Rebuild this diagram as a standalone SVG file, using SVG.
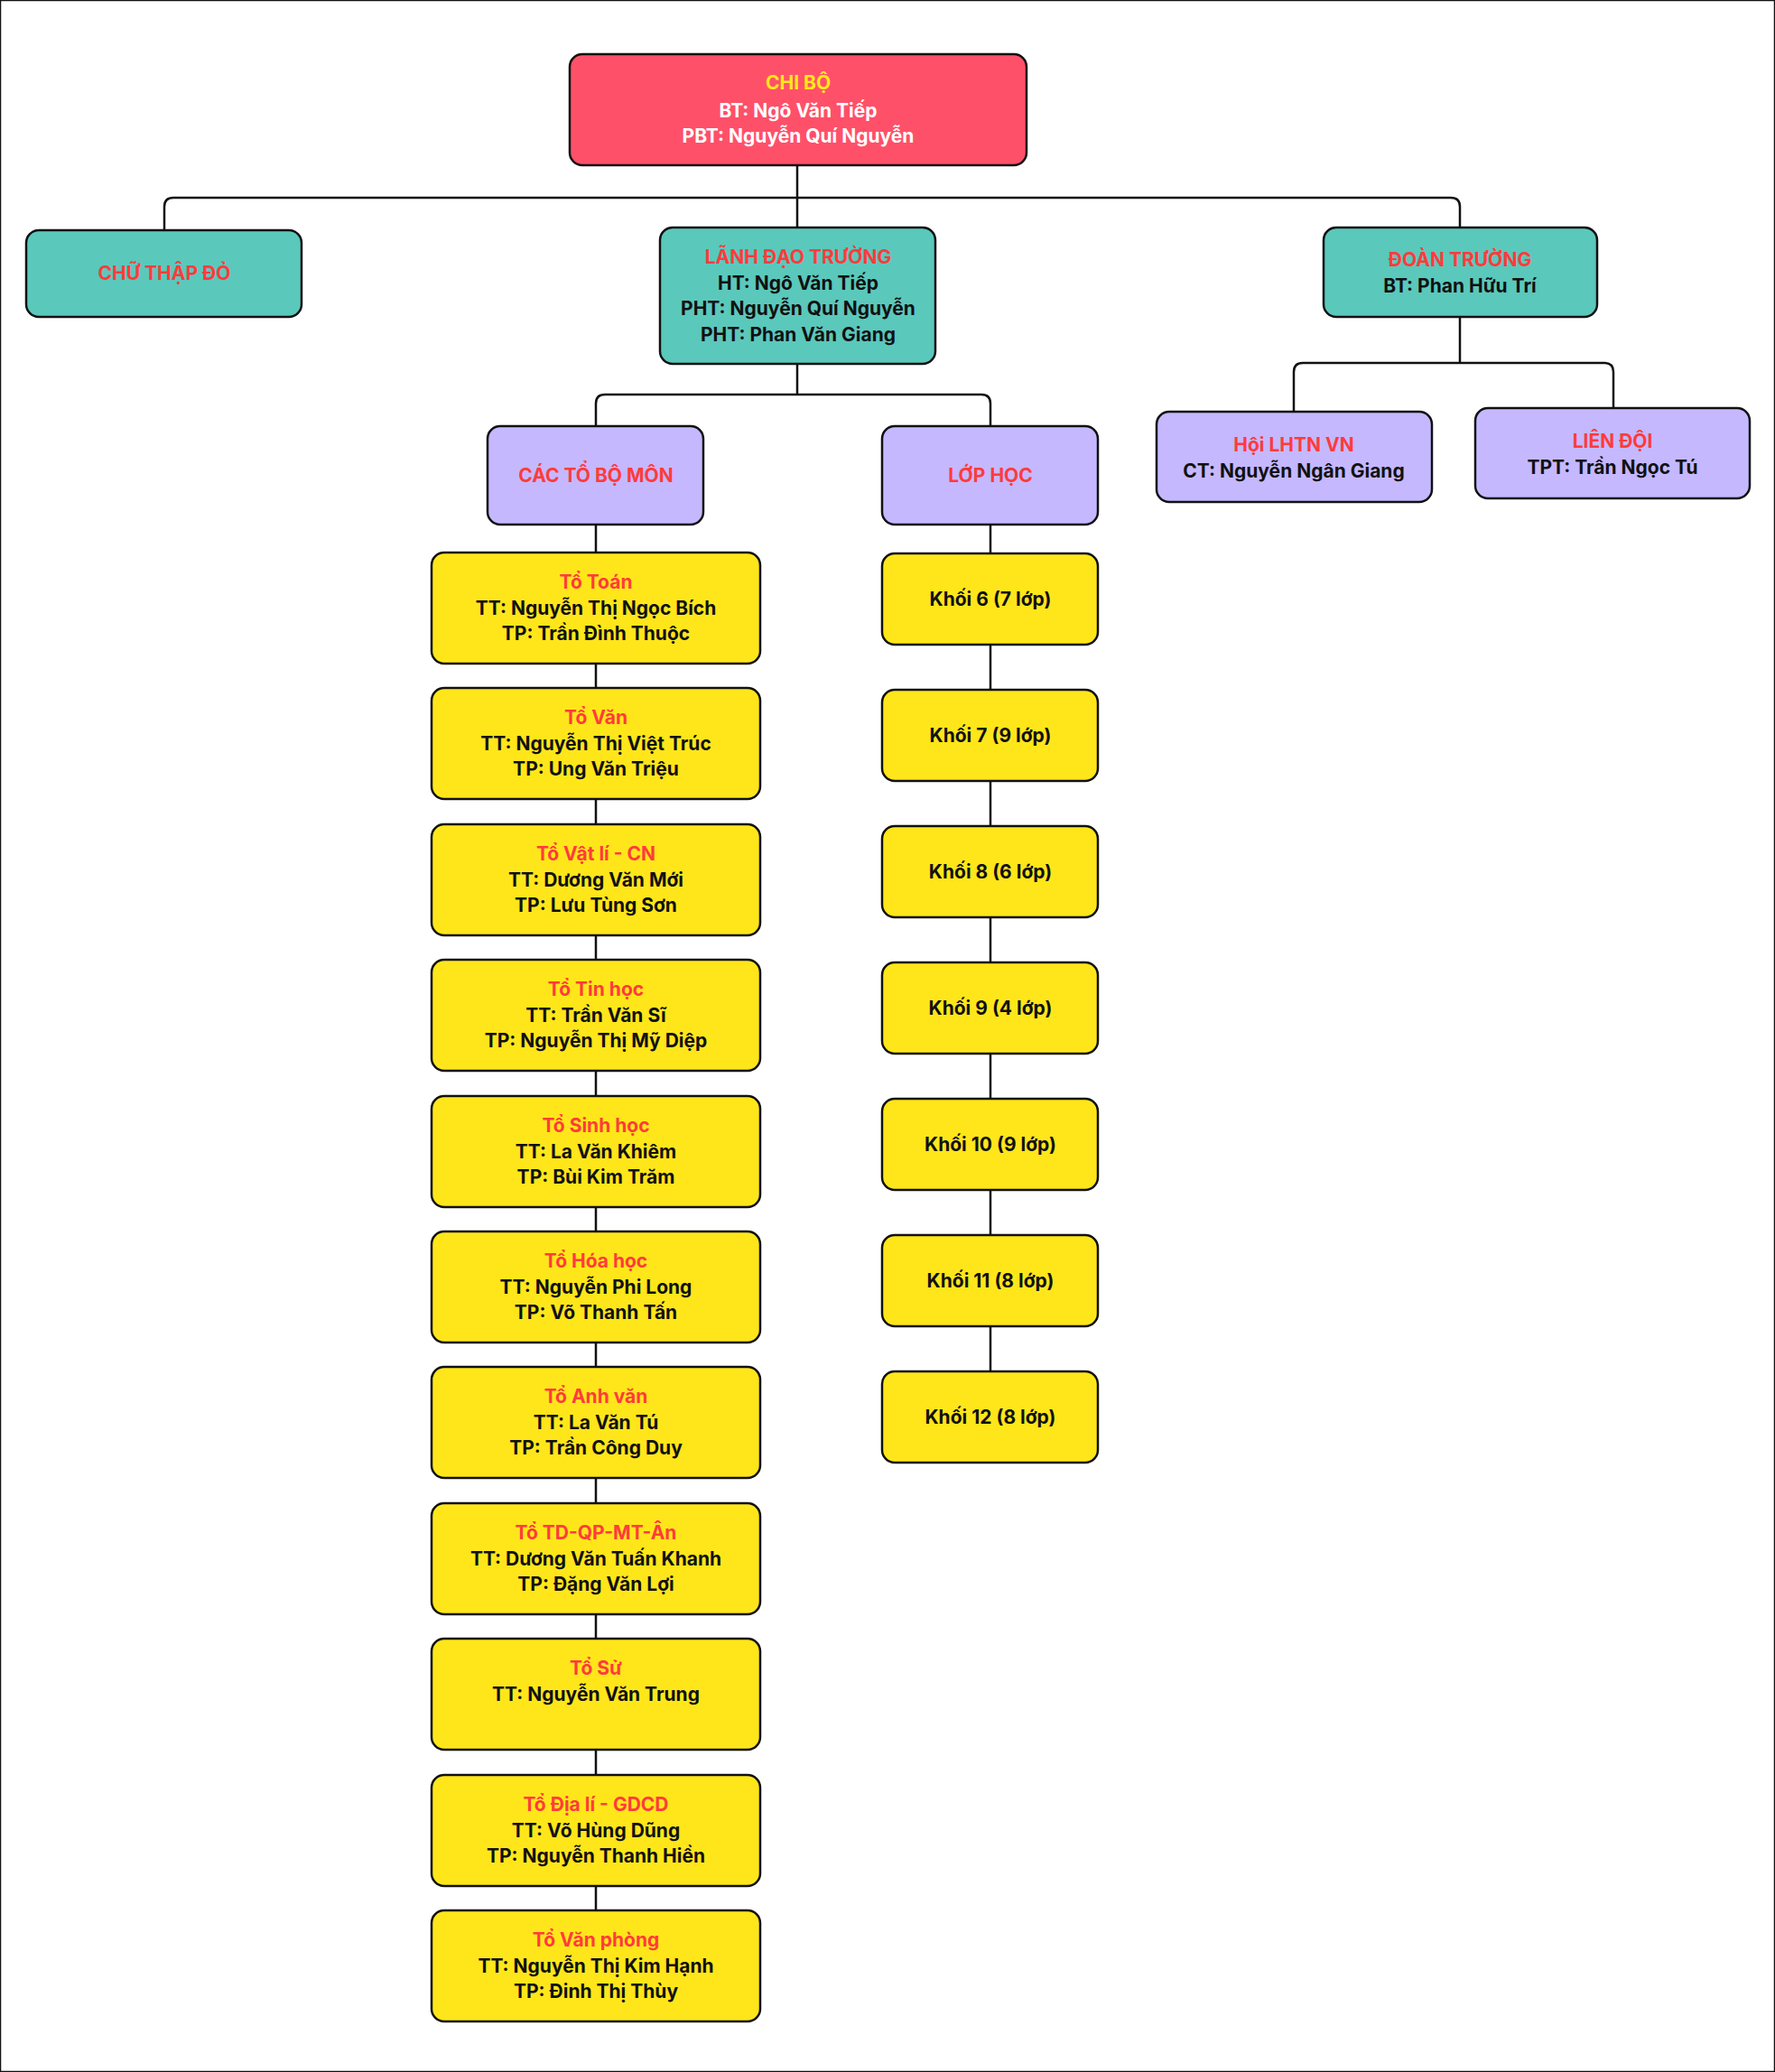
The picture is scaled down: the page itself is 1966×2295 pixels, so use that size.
<svg xmlns="http://www.w3.org/2000/svg" width="1966" height="2295" viewBox="0 0 1966 2295">
<style>
rect{stroke:#111;stroke-width:2.5}
.r{fill:#FF5069}.t{fill:#5BC8BC}.p{fill:#C5B8FF}.y{fill:#FFE61A}
text{font-family:Inter,"Noto Sans","DejaVu Sans",sans-serif;font-weight:700;font-size:21px;text-anchor:middle;fill:#111}
.h{fill:#FF3B3B}.hy{fill:#FFE81A}.w{fill:#fff}
#c path{fill:none;stroke:#111;stroke-width:2.5}
</style>
<rect width="1966" height="2295" fill="#fff" stroke="none"/>
<g id="c">
<path d="M883 183V252M182 255V229Q182 219 192 219H1607Q1617 219 1617 229V252"/>
<path d="M883 403V437M660 472V447Q660 437 670 437H1087Q1097 437 1097 447V472"/>
<path d="M1617 351V402M1433 456V412Q1433 402 1443 402H1777Q1787 402 1787 412V452"/>
<path d="M660 581V2116M1097 581V1519"/>
</g>
<g id="chibo"><rect class="r" x="631" y="60" width="506" height="123" rx="14"/><text class="hy" x="884" y="99">CHI BỘ</text><text class="w" x="884" y="130">BT: Ngô Văn Tiếp</text><text class="w" x="884" y="158">PBT: Nguyễn Quí Nguyễn</text></g>
<g id="chuthapdo"><rect class="t" x="29" y="255" width="305" height="96" rx="14"/><text class="h" x="182" y="310">CHỮ THẬP ĐỎ</text></g>
<g id="lanhdao"><rect class="t" x="731" y="252" width="305" height="151" rx="14"/><text class="h" x="884" y="292">LÃNH ĐẠO TRƯỜNG</text><text x="884" y="321">HT: Ngô Văn Tiếp</text><text x="884" y="349">PHT: Nguyễn Quí Nguyễn</text><text x="884" y="378">PHT: Phan Văn Giang</text></g>
<g id="doan"><rect class="t" x="1466" y="252" width="303" height="99" rx="14"/><text class="h" x="1617" y="295">ĐOÀN TRƯỜNG</text><text x="1617" y="324">BT: Phan Hữu Trí</text></g>
<g id="cacto"><rect class="p" x="540" y="472" width="239" height="109" rx="14"/><text class="h" x="660" y="534">CÁC TỔ BỘ MÔN</text></g>
<g id="lophoc"><rect class="p" x="977" y="472" width="239" height="109" rx="14"/><text class="h" x="1097" y="534">LỚP HỌC</text></g>
<g id="hoi"><rect class="p" x="1281" y="456" width="305" height="100" rx="14"/><text class="h" x="1433" y="500">Hội LHTN VN</text><text x="1433" y="529">CT: Nguyễn Ngân Giang</text></g>
<g id="liendoi"><rect class="p" x="1634" y="452" width="304" height="100" rx="14"/><text class="h" x="1786" y="496">LIÊN ĐỘI</text><text x="1786" y="525">TPT: Trần Ngọc Tú</text></g>
<g id="t1"><rect class="y" x="478" y="612" width="364" height="123" rx="14"/><text class="h" x="660" y="652">Tổ Toán</text><text x="660" y="681">TT: Nguyễn Thị Ngọc Bích</text><text x="660" y="709">TP: Trần Đình Thuộc</text></g>
<g id="t2"><rect class="y" x="478" y="762" width="364" height="123" rx="14"/><text class="h" x="660" y="802">Tổ Văn</text><text x="660" y="831">TT: Nguyễn Thị Việt Trúc</text><text x="660" y="859">TP: Ung Văn Triệu</text></g>
<g id="t3"><rect class="y" x="478" y="913" width="364" height="123" rx="14"/><text class="h" x="660" y="953">Tổ Vật lí - CN</text><text x="660" y="982">TT: Dương Văn Mới</text><text x="660" y="1010">TP: Lưu Tùng Sơn</text></g>
<g id="t4"><rect class="y" x="478" y="1063" width="364" height="123" rx="14"/><text class="h" x="660" y="1103">Tổ Tin học</text><text x="660" y="1132">TT: Trần Văn Sĩ</text><text x="660" y="1160">TP: Nguyễn Thị Mỹ Diệp</text></g>
<g id="t5"><rect class="y" x="478" y="1214" width="364" height="123" rx="14"/><text class="h" x="660" y="1254">Tổ Sinh học</text><text x="660" y="1283">TT: La Văn Khiêm</text><text x="660" y="1311">TP: Bùi Kim Trăm</text></g>
<g id="t6"><rect class="y" x="478" y="1364" width="364" height="123" rx="14"/><text class="h" x="660" y="1404">Tổ Hóa học</text><text x="660" y="1433">TT: Nguyễn Phi Long</text><text x="660" y="1461">TP: Võ Thanh Tấn</text></g>
<g id="t7"><rect class="y" x="478" y="1514" width="364" height="123" rx="14"/><text class="h" x="660" y="1554">Tổ Anh văn</text><text x="660" y="1583">TT: La Văn Tú</text><text x="660" y="1611">TP: Trần Công Duy</text></g>
<g id="t8"><rect class="y" x="478" y="1665" width="364" height="123" rx="14"/><text class="h" x="660" y="1705">Tổ TD-QP-MT-Ân</text><text x="660" y="1734">TT: Dương Văn Tuấn Khanh</text><text x="660" y="1762">TP: Đặng Văn Lợi</text></g>
<g id="t9"><rect class="y" x="478" y="1815" width="364" height="123" rx="14"/><text class="h" x="660" y="1855">Tổ Sử</text><text x="660" y="1884">TT: Nguyễn Văn Trung</text></g>
<g id="t10"><rect class="y" x="478" y="1966" width="364" height="123" rx="14"/><text class="h" x="660" y="2006">Tổ Địa lí - GDCD</text><text x="660" y="2035">TT: Võ Hùng Dũng</text><text x="660" y="2063">TP: Nguyễn Thanh Hiền</text></g>
<g id="t11"><rect class="y" x="478" y="2116" width="364" height="123" rx="14"/><text class="h" x="660" y="2156">Tổ Văn phòng</text><text x="660" y="2185">TT: Nguyễn Thị Kim Hạnh</text><text x="660" y="2213">TP: Đinh Thị Thùy</text></g>
<g id="k6"><rect class="y" x="977" y="613" width="239" height="101" rx="14"/><text x="1097" y="671">Khối 6 (7 lớp)</text></g>
<g id="k7"><rect class="y" x="977" y="764" width="239" height="101" rx="14"/><text x="1097" y="822">Khối 7 (9 lớp)</text></g>
<g id="k8"><rect class="y" x="977" y="915" width="239" height="101" rx="14"/><text x="1097" y="973">Khối 8 (6 lớp)</text></g>
<g id="k9"><rect class="y" x="977" y="1066" width="239" height="101" rx="14"/><text x="1097" y="1124">Khối 9 (4 lớp)</text></g>
<g id="k10"><rect class="y" x="977" y="1217" width="239" height="101" rx="14"/><text x="1097" y="1275">Khối 10 (9 lớp)</text></g>
<g id="k11"><rect class="y" x="977" y="1368" width="239" height="101" rx="14"/><text x="1097" y="1426">Khối 11 (8 lớp)</text></g>
<g id="k12"><rect class="y" x="977" y="1519" width="239" height="101" rx="14"/><text x="1097" y="1577">Khối 12 (8 lớp)</text></g>
</svg>
